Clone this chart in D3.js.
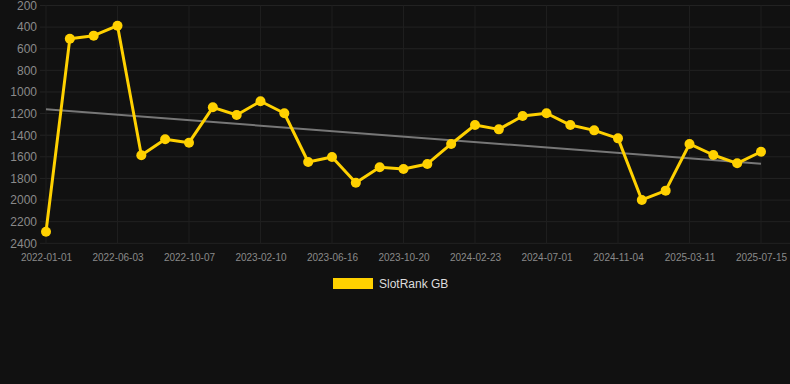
<!DOCTYPE html>
<html><head><meta charset="utf-8">
<script src="https://cdn.jsdelivr.net/npm/d3@7"></script>
<style>
html,body{margin:0;padding:0;background:#111111;}
svg{display:block;}
text{font-family:"Liberation Sans",Arial,Helvetica,sans-serif;}
</style></head>
<body><svg id="c" width="790" height="384"></svg>
<script>
const dates = ["2022-01-01","2022-02-21","2022-04-13","2022-06-03","2022-07-15","2022-08-26",
"2022-10-07","2022-11-18","2022-12-30","2023-02-10","2023-03-24","2023-05-05",
"2023-06-16","2023-07-28","2023-09-08","2023-10-20","2023-12-01","2024-01-12",
"2024-02-23","2024-04-05","2024-05-17","2024-07-01","2024-08-12","2024-09-23",
"2024-11-04","2024-12-16","2025-01-27","2025-03-11","2025-04-22","2025-06-03","2025-07-15"];
const rankGB = [2293,507,479,387,1586,1438,1469,1142,1213,1086,1197,1648,1602,1839,1697,1713,
1666,1481,1306,1346,1222,1197,1306,1355,1429,1999,1913,1481,1583,1660,1553];
const yTicks = [200,400,600,800,1000,1200,1400,1600,1800,2000,2200,2400];
const seriesName = "SlotRank GB";

const svg = d3.select("#c");
const W = 790, H = 384;
svg.append("rect").attr("width",W).attr("height",H).attr("fill","#111111");

const x = d3.scalePoint().domain(dates).range([46,761]);
const y = d3.scaleLinear().domain([200,2400]).range([5.5,243.3]);
const plotL = 40, plotR = 790;

// horizontal grid
svg.append("g").selectAll("line").data(yTicks).join("line")
  .attr("x1",plotL).attr("x2",plotR)
  .attr("y1",d=>y(d)).attr("y2",d=>y(d))
  .attr("stroke","#222222").attr("stroke-width",1);
// vertical grid at labelled dates
const xLabelDates = dates.filter((d,i)=>i%3===0);
svg.append("g").selectAll("line").data(xLabelDates).join("line")
  .attr("x1",d=>x(d)).attr("x2",d=>x(d))
  .attr("y1",y(200)).attr("y2",y(2400))
  .attr("stroke","#1e1e1e").attr("stroke-width",1);

// y axis
const yAxis = d3.axisLeft(y).tickValues(yTicks).tickFormat(d3.format("d")).tickSize(0).tickPadding(0);
const gy = svg.append("g").attr("transform","translate(37,0)").call(yAxis);
gy.select(".domain").remove();
gy.selectAll("text").attr("fill","#8a8a8a").attr("font-size","12px")
  .attr("font-family","Liberation Sans, Arial, sans-serif");

// x axis
const xAxis = d3.axisBottom(x).tickValues(xLabelDates).tickSize(0).tickPadding(0);
const gx = svg.append("g").attr("transform","translate(0,254)").call(xAxis);
gx.select(".domain").remove();
gx.selectAll("text").attr("fill","#8a8a8a").attr("font-size","10px")
  .attr("font-family","Liberation Sans, Arial, sans-serif");

// trend (least squares)
const n = rankGB.length;
const mi = d3.mean(rankGB,(d,i)=>i), mv = d3.mean(rankGB);
let num=0, den=0;
rankGB.forEach((v,i)=>{num+=(i-mi)*(v-mv); den+=(i-mi)*(i-mi);});
const slope = num/den, icpt = mv - slope*mi;
svg.append("line")
  .attr("x1",x(dates[0])).attr("y1",y(icpt))
  .attr("x2",x(dates[n-1])).attr("y2",y(icpt+slope*(n-1)))
  .attr("stroke","#777777").attr("stroke-width",2);

// series line
const line = d3.line().x((d,i)=>x(dates[i])).y(d=>y(d));
svg.append("path").datum(rankGB).attr("d",line)
  .attr("fill","none").attr("stroke","#FFD100").attr("stroke-width",3)
  .attr("stroke-linejoin","round");
svg.append("g").selectAll("circle").data(rankGB).join("circle")
  .attr("cx",(d,i)=>x(dates[i])).attr("cy",d=>y(d)).attr("r",5)
  .attr("fill","#FFD100");

// legend
const lg = svg.append("g");
lg.append("rect").attr("x",333).attr("y",278).attr("width",40).attr("height",11).attr("fill","#FFD100");
lg.append("text").attr("x",379).attr("y",284).attr("dy","0.35em")
  .attr("fill","#dddddd").attr("font-size","12px").text(seriesName);
</script></body></html>
